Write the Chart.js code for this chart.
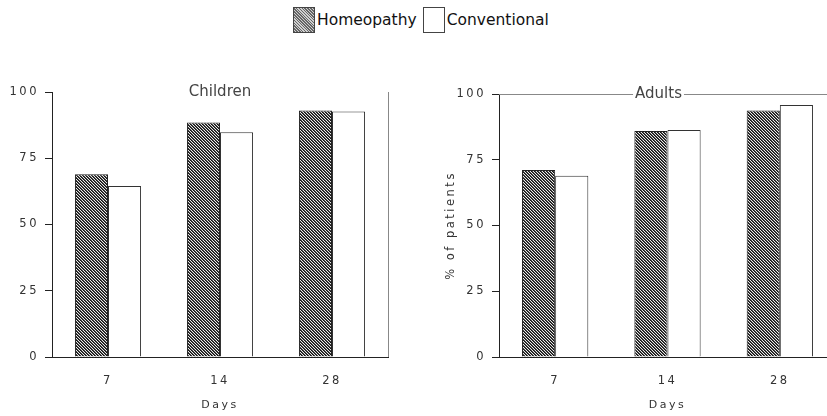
<!DOCTYPE html>
<html>
<head>
  <title>Homeopathy vs Conventional</title>
  <script src="https://cdn.jsdelivr.net/npm/chart.js@4.4.0/dist/chart.umd.min.js"></script>
  <style>
    html, body { margin: 0; padding: 0; background: #fff; overflow: hidden; }
    body { width: 827px; height: 416px; position: relative; font-family: 'DejaVu Sans', sans-serif; }
    #legend { position: absolute; top: 7px; left: 293px; display: flex; align-items: center; font-size: 15.5px; color: #111; }
    .swatch { width: 22px; height: 26px; border: 1px solid #444; box-sizing: border-box; margin-right: 2px; }
    #hatch { background: repeating-linear-gradient(45deg, #666 0 1px, #d0d0d0 1px 2px); }
    #plain { background: #fff; margin-left: 6px; }
    #wrapLeft { position: absolute; left: 0; top: 0; width: 410px; height: 416px; }
    #wrapRight { position: absolute; left: 420px; top: 0; width: 430px; height: 416px; }
  </style>
</head>
<body>
  <div id="legend">
    <div class="swatch" id="hatch"></div><span>Homeopathy</span>
    <div class="swatch" id="plain"></div><span>Conventional</span>
  </div>
  <div id="wrapLeft"><canvas id="children"></canvas></div>
  <div id="wrapRight"><canvas id="adults"></canvas></div>

  <script>
    // data
    const days = ['7', '14', '28'];
    const yTicks = [0, 25, 50, 75, 100];
    const childrenHomeopathy = [69, 88.5, 93];
    const childrenConventional = [64.5, 84.8, 92.6];
    const adultsHomeopathy = [71.1, 85.9, 93.7];
    const adultsConventional = [68.9, 86.3, 95.8];

    // dense diagonal hatching for the homeopathy bars
    const makeHatch = () => {
      const c = document.createElement('canvas');
      c.width = 3; c.height = 3;
      const g = c.getContext('2d');
      const img = g.createImageData(3, 3);
      for (let y = 0; y < 3; y++) {
        for (let x = 0; x < 3; x++) {
          const k = ((x - y) % 3 + 3) % 3;
          const v = k === 0 ? 20 : (k === 1 ? 70 : 235);
          const i = (y * 3 + x) * 4;
          img.data[i] = img.data[i + 1] = img.data[i + 2] = v;
          img.data[i + 3] = 255;
        }
      }
      g.putImageData(img, 0, 0);
      return g.createPattern(c, 'repeat');
    };
    const hatch = makeHatch();

    // spaced-out axis lettering, and the panel title on the top edge
    const panelDecor = {
      id: 'panelDecor',
      beforeDraw(chart) {
        chart.ctx.letterSpacing = '2.5px';
      },
      afterDraw(chart, args, opts) {
        const { ctx, chartArea } = chart;
        ctx.save();
        ctx.letterSpacing = '0px';
        ctx.strokeStyle = '#888';
        ctx.lineWidth = 1;
        if (opts.rightEdge) {
          ctx.beginPath();
          ctx.moveTo(Math.round(chartArea.right) + 0.5, chartArea.top);
          ctx.lineTo(Math.round(chartArea.right) + 0.5, chartArea.bottom);
          ctx.stroke();
        }
        ctx.font = '15px "DejaVu Sans", sans-serif';
        const cx = (chartArea.left + chartArea.right) / 2 + opts.shift;
        const tw = ctx.measureText(opts.text).width;
        if (opts.topEdge) {
          ctx.beginPath();
          ctx.moveTo(chartArea.left, Math.round(chartArea.top) + 0.5);
          ctx.lineTo(chartArea.right, Math.round(chartArea.top) + 0.5);
          ctx.stroke();
          ctx.fillStyle = '#fff';
          ctx.fillRect(cx - tw / 2 - 2, chartArea.top - 8, tw + 4, 16);
        }
        ctx.fillStyle = '#444';
        ctx.textAlign = 'center';
        ctx.textBaseline = 'middle';
        ctx.fillText(opts.text, cx, chartArea.top);
        ctx.restore();
      }
    };

    const makeChart = (id, title, homeo, conv, cfg) => {
      return new Chart(document.getElementById(id), {
        type: 'bar',
        data: {
          labels: days,
          datasets: [
            { label: 'Homeopathy', data: homeo, backgroundColor: hatch, borderColor: '#222', borderWidth: 1 },
            { label: 'Conventional', data: conv, backgroundColor: '#fff', borderColor: '#333', borderWidth: 1 }
          ]
        },
        options: {
          responsive: true,
          maintainAspectRatio: false,
          animation: false,
          categoryPercentage: 0.59,
          barPercentage: 1,
          layout: { padding: { top: cfg.top, right: cfg.right, left: cfg.padLeft, bottom: 0 } },
          plugins: {
            legend: { display: false },
            tooltip: { enabled: false },
            panelDecor: { text: title, topEdge: cfg.topEdge, rightEdge: cfg.rightEdge, shift: cfg.shift }
          },
          scales: {
            x: {
              grid: { display: false },
              border: { display: true, color: '#222', width: 1 },
              ticks: { color: '#333', font: { family: 'DejaVu Sans', size: 11.5 }, padding: 9 },
              title: { display: true, text: 'Days', color: '#333', font: { family: 'DejaVu Sans', size: 11 }, padding: { top: 10 } },
              afterFit: s => { s.height = cfg.bottom; }
            },
            y: {
              min: 0,
              max: 100,
              afterBuildTicks: s => { s.ticks = yTicks.map(v => ({ value: v })); },
              grid: { display: true, drawOnChartArea: false, drawTicks: true, tickLength: 7, color: '#222' },
              border: { display: true, color: '#222', width: 1 },
              ticks: { color: '#333', font: { family: 'DejaVu Sans', size: 11.5 }, padding: 6 },
              title: { display: cfg.yTitle, text: '% of patients', color: '#333', font: { family: 'DejaVu Sans', size: 11.5 }, padding: { bottom: 6 } },
              afterFit: s => { s.width = cfg.left; }
            }
          }
        },
        plugins: [panelDecor]
      });
    };

    makeChart('children', 'Children', childrenHomeopathy, childrenConventional,
      { top: 92, right: 22, bottom: 59, left: 52, padLeft: 0, topEdge: false, rightEdge: true, yTitle: false, shift: 0 });
    makeChart('adults', 'Adults', adultsHomeopathy, adultsConventional,
      { top: 94, right: 14, bottom: 59, left: 59, padLeft: 20, topEdge: true, rightEdge: false, yTitle: true, shift: -9 });
  </script>
</body>
</html>
